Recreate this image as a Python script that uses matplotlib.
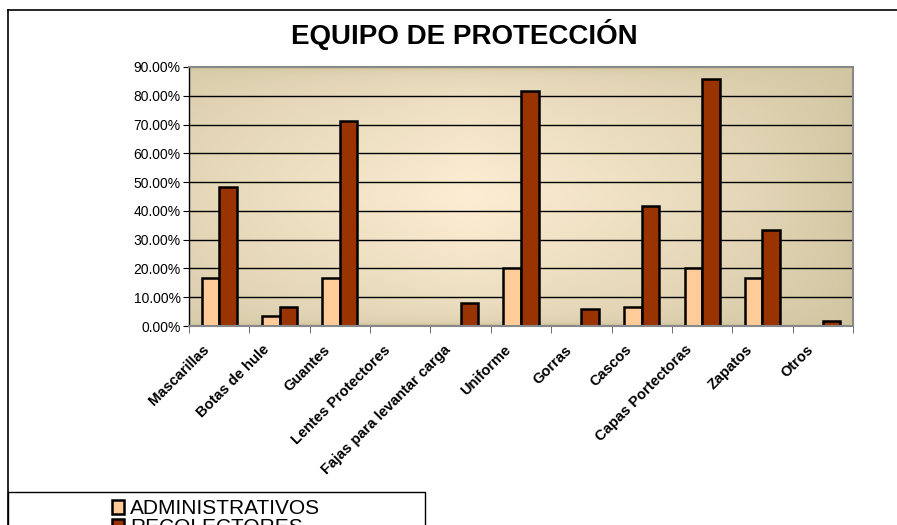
import numpy as np
import matplotlib
matplotlib.use("Agg")
import matplotlib.pyplot as plt
import matplotlib.transforms as mtransforms
from matplotlib.patches import Rectangle
from matplotlib.lines import Line2D
from matplotlib.ticker import FuncFormatter, FixedLocator

plt.rcParams['font.family'] = ['Liberation Sans', 'DejaVu Sans']

categorias = ["Mascarillas", "Botas de hule", "Guantes", "Lentes Protectores",
              "Fajas para levantar carga", "Uniforme", "Gorras", "Cascos",
              "Capas Portectoras", "Zapatos", "Otros"]
administrativos = [16.67, 3.33, 16.67, 0, 0, 20.0, 0, 6.67, 20.0, 16.67, 0]
recolectores = [48.4, 6.5, 71.2, 0, 8.1, 81.6, 6.0, 41.6, 85.7, 33.5, 1.9]

W, H = 897, 525
fig = plt.figure(figsize=(W / 100, H / 100), dpi=100)

# marco exterior (solo borde izquierdo y superior visibles)
fig.add_artist(Line2D([8 / W, 8 / W], [0, 1 - 10 / H], color='black', lw=1.2))
fig.add_artist(Line2D([8 / W, 1], [1 - 10 / H, 1 - 10 / H], color='black', lw=1.2))

fig.text(464 / W, 1 - 35 / H, "EQUIPO DE PROTECCIÓN", ha='center', va='center',
         fontsize=20, fontweight='bold')

ax = fig.add_axes([189 / W, (H - 326) / H, (853 - 189) / W, (326 - 67) / H])

# fondo degradado
nx_, ny_ = 200, 100
xs = np.linspace(0, 1, nx_)
ys = np.linspace(0, 1, ny_)
hx = np.clip(1 - np.abs(xs - 0.42) / 0.58, 0, 1) ** 0.8
hy = np.clip(1 - np.abs(ys - 0.5) / 0.5, 0, 1) ** 0.35
t = np.outer(hy, hx) ** 0.8
dark = np.array([0.82, 0.77, 0.63])
light = np.array([0.99, 0.93, 0.83])
img = dark[None, None, :] + (light - dark)[None, None, :] * t[:, :, None]
n = len(categorias)
ax.imshow(img, extent=(-0.5, n - 0.5, 0, 90), aspect='auto', zorder=0, origin='lower')

x = np.arange(n)
w = 0.29
for y in range(10, 90, 10):
    ax.axhline(y, color='black', lw=1.0, zorder=1)
ax.bar(x - w / 2, administrativos, w, color='#FFCC99', edgecolor='black', lw=1.8,
       zorder=2, label='ADMINISTRATIVOS')
ax.bar(x + w / 2, recolectores, w, color='#993300', edgecolor='black', lw=1.8,
       zorder=2, label='RECOLECTORES')

ax.set_xlim(-0.5, n - 0.5)
ax.set_ylim(0, 90)
ax.yaxis.set_major_locator(FixedLocator(np.arange(0, 91, 10)))
ax.yaxis.set_major_formatter(FuncFormatter(lambda v, p: "%.2f%%" % v))
ax.tick_params(axis='y', labelsize=10, direction='out', length=4, pad=2)

ax.xaxis.set_major_locator(FixedLocator(x))
ax.xaxis.set_minor_locator(FixedLocator(np.arange(-0.5, n, 1)))
ax.tick_params(axis='x', which='major', length=0, pad=12)
ax.tick_params(axis='x', which='minor', length=5, direction='out', color='#555555')
ax.set_xticklabels(categorias, rotation=45, ha='right', rotation_mode='anchor',
                   fontsize=10.5, fontweight='bold')
# desplazar etiquetas un poco a la izquierda (despues de tick_params)
desplaza = mtransforms.ScaledTranslation(-17 / 100, 0, fig.dpi_scale_trans)
for lab in ax.get_xticklabels():
    lab.set_transform(lab.get_transform() + desplaza)

for s in ax.spines.values():
    s.set_color('#888888')
    s.set_linewidth(1.5)
ax.spines['left'].set_color('black')
ax.spines['left'].set_linewidth(1)

# caja de la leyenda
fig.add_artist(Rectangle((8 / W, -0.05), (425 - 8) / W, 0.05 + (H - 492) / H,
                         transform=fig.transFigure, fill=False, edgecolor='black', lw=1))
handles, labels = ax.get_legend_handles_labels()
fig.legend(handles, labels, loc='upper center', bbox_to_anchor=(216 / W, 1 - 489 / H),
           frameon=False, fontsize=15, handlelength=0.6, handleheight=0.6,
           handletextpad=0.3, labelspacing=0.0, borderpad=0)

fig.savefig("out.png", dpi=100)
